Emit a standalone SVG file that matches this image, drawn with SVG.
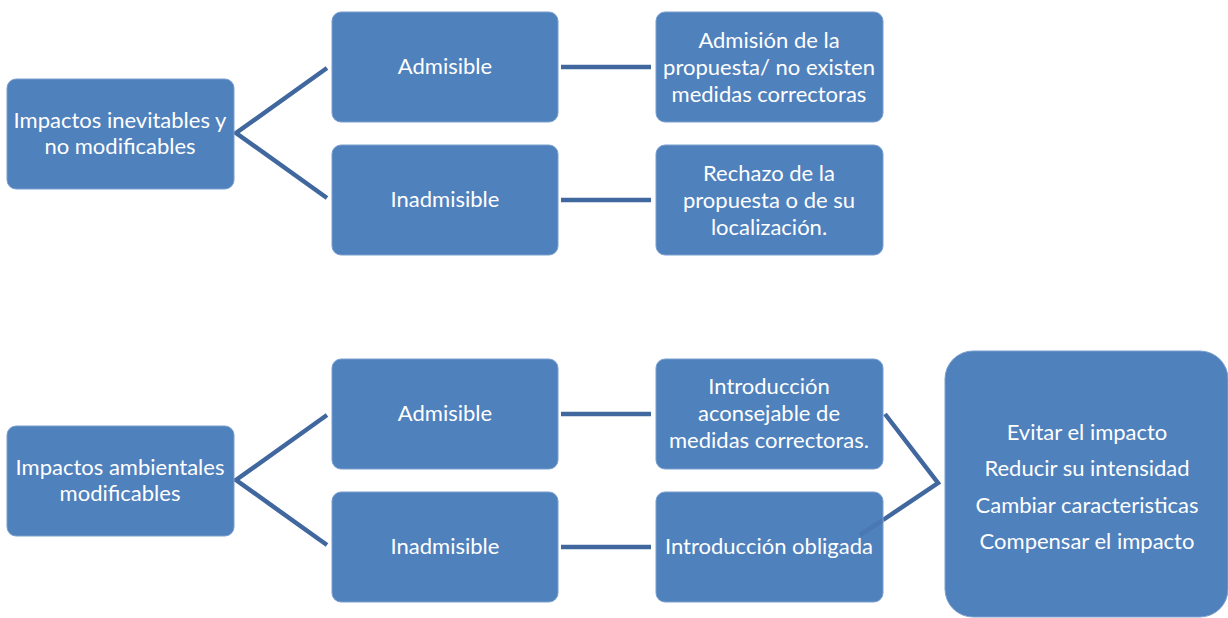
<svg xmlns="http://www.w3.org/2000/svg" width="1228" height="618" viewBox="0 0 1228 618">
<style>
.box{fill:#4F81BD;stroke:#7A9FCF;stroke-width:1}
.t{font-family:Lato,"Open Sans",sans-serif;font-size:22px;fill:#FFFFFF;text-anchor:middle}
.c{fill:none;stroke:#41689E;stroke-width:4.5}
</style>
<rect width="1228" height="618" fill="#FFFFFF"/>
<g id="connectors">
<polyline class="c" points="327,68 236,133 327,198"/>
<line class="c" x1="561" y1="67" x2="651" y2="67"/>
<line class="c" x1="561" y1="200" x2="651" y2="200"/>
<polyline class="c" points="327,415 236,480 327,545"/>
<line class="c" x1="561" y1="414" x2="651" y2="414"/>
<line class="c" x1="561" y1="547" x2="651" y2="547"/>
<polyline class="c" points="885,414 938,483 883,520"/>
</g>
<g id="n1"><rect class="box" x="7" y="79" width="227" height="110" rx="9"/><text class="t" x="120" y="128">Impactos inevitables y</text><text class="t" x="120" y="154">no modificables</text></g>
<g id="n2"><rect class="box" x="332" y="12" width="226" height="110" rx="9"/><text class="t" x="445" y="74">Admisible</text></g>
<g id="n3"><rect class="box" x="332" y="145" width="226" height="110" rx="9"/><text class="t" x="445" y="207">Inadmisible</text></g>
<g id="n4"><rect class="box" x="656" y="12" width="227" height="110" rx="9"/><text class="t" x="769" y="48">Admisión de la</text><text class="t" x="769" y="75">propuesta/ no existen</text><text class="t" x="769" y="102">medidas correctoras</text></g>
<g id="n5"><rect class="box" x="656" y="145" width="227" height="110" rx="9"/><text class="t" x="769" y="181">Rechazo de la</text><text class="t" x="769" y="208">propuesta o de su</text><text class="t" x="769" y="235">localización.</text></g>
<g id="n6"><rect class="box" x="7" y="426" width="227" height="110" rx="9"/><text class="t" x="120" y="475">Impactos ambientales</text><text class="t" x="120" y="501">modificables</text></g>
<g id="n7"><rect class="box" x="332" y="359" width="226" height="110" rx="9"/><text class="t" x="445" y="421">Admisible</text></g>
<g id="n8"><rect class="box" x="332" y="492" width="226" height="110" rx="9"/><text class="t" x="445" y="554">Inadmisible</text></g>
<g id="n9"><rect class="box" x="656" y="359" width="227" height="110" rx="9"/><text class="t" x="769" y="394">Introducción</text><text class="t" x="769" y="421">aconsejable de</text><text class="t" x="769" y="448">medidas correctoras.</text></g>
<g id="n10"><rect class="box" x="656" y="492" width="227" height="110" rx="9"/><line x1="883" y1="520" x2="860" y2="535" stroke="#41689E" stroke-width="4.5" opacity="0.35"/><text class="t" x="769" y="554">Introducción obligada</text></g>
<g id="n11"><rect class="box" x="945" y="351" width="283" height="266" rx="28"/><text class="t" x="1087" y="440">Evitar el impacto</text><text class="t" x="1087" y="476">Reducir su intensidad</text><text class="t" x="1087" y="513">Cambiar caracteristicas</text><text class="t" x="1087" y="549">Compensar el impacto</text></g>
</svg>
